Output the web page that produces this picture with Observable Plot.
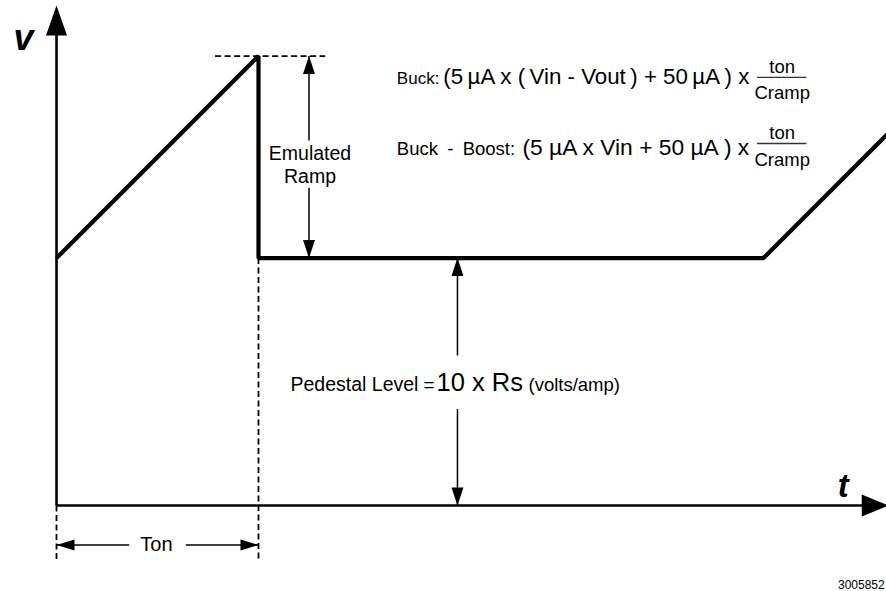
<!DOCTYPE html>
<html><head><meta charset="utf-8">
<script src="https://cdn.jsdelivr.net/npm/d3@7"></script>
<script src="https://cdn.jsdelivr.net/npm/@observablehq/plot@0.6"></script>
<style>html,body{margin:0;padding:0;background:#fff} svg{display:block}</style>
</head><body><div id="chart"></div>
<script>
// ---- data (time t and voltage v in arbitrary units) ----
const waveT = [0, 2, 2, 7, 8.25];
const waveV = [2.45, 4.45, 2.45, 2.45, 3.7];
const tOn = 2;            // on-time
const pedestal = 2.45;    // pedestal level
const peak = 4.45;        // top of emulated ramp
const tMax = 8.24;        // end of time axis
const vMax = 4.95;        // end of voltage axis
const tonArrowV = -0.39;  // level of the Ton dimension arrow
const dimLow = -0.545;    // bottom of the dashed extension lines
const rampArrowT = 2.5;   // position of the "Emulated Ramp" dimension
const pedArrowT = 3.97;   // position of the pedestal dimension

const formula1Small = "Buck:";
const formula1Big = "(5\u2009µA x (\u2009Vin - Vout\u2009) + 50\u2009µA\u2009) x";
const formula2Small = "Buck\u2002-\u2002Boost:";
const formula2Big = "(5 µA x Vin + 50 µA ) x";
const fracTop = "ton";
const fracBottom = "Cramp";
const pedLabel = ["Pedestal Level", "=", "10 x Rs", "(volts/amp)"];
const figId = "3005852";

// ---- tables built from the data ----
const wave = waveT.map((t, i) => ({t, v: waveV[i]}));
const FONT = "Liberation Sans, Arial, Helvetica, sans-serif";

const head = (dx, dy, L, W) => ({
  draw(ctx) {
    const px = -dy, py = dx;
    ctx.moveTo(0, 0);
    ctx.lineTo(-dx * L + px * W / 2, -dy * L + py * W / 2);
    ctx.lineTo(-dx * L - px * W / 2, -dy * L - py * W / 2);
    ctx.closePath();
  }
});

const axisLines = [
  {x1: 0, y1: 0, x2: tMax - 0.1, y2: 0},
  {x1: 0, y1: 0, x2: 0, y2: vMax - 0.1}
];
// dimension shafts with gaps for the labels
const rampGapC = 3.38, rampGapH = 0.235;
const tonGapC = tOn / 2, tonGapH = 0.28;
const pedGapC = 1.22, pedGapH = 0.265;
const shafts = [
  {x1: rampArrowT, y1: peak, x2: rampArrowT, y2: rampGapC + rampGapH},
  {x1: rampArrowT, y1: rampGapC - rampGapH, x2: rampArrowT, y2: pedestal},
  {x1: 0, y1: tonArrowV, x2: tonGapC - tonGapH, y2: tonArrowV},
  {x1: tonGapC + tonGapH, y1: tonArrowV, x2: tOn, y2: tonArrowV},
  {x1: pedArrowT, y1: pedestal, x2: pedArrowT, y2: pedGapC + pedGapH},
  {x1: pedArrowT, y1: pedGapC - pedGapH, x2: pedArrowT, y2: 0}
];
const dashed = [
  {x1: 1.57, y1: peak, x2: 2.66, y2: peak},
  {x1: tOn, y1: pedestal, x2: tOn, y2: dimLow},
  {x1: 0, y1: 0, x2: 0, y2: dimLow}
];
const fracBars = [
  {x1: 6.94, x2: 7.43, y: 4.238},
  {x1: 6.94, x2: 7.43, y: 3.584}
];

const txt = (data, opts) => Plot.text(data, {x: "x", y: "y", text: "s", fill: "black", ...opts});

const chart = Plot.plot({
  width: 886, height: 591,
  margin: 0,
  x: {domain: [-56 / 101, 830 / 101], axis: null},
  y: {domain: [-86 / 101, 505 / 101], axis: null},
  style: {fontFamily: FONT, background: "#fff", overflow: "hidden"},
  marks: [
    Plot.link(axisLines, {x1: "x1", y1: "y1", x2: "x2", y2: "y2", stroke: "black", strokeWidth: 2.6}),
    Plot.link(shafts, {x1: "x1", y1: "y1", x2: "x2", y2: "y2", stroke: "black", strokeWidth: 1.5}),
    Plot.link(dashed, {x1: "x1", y1: "y1", x2: "x2", y2: "y2", stroke: "black", strokeWidth: 1.8, strokeDasharray: "6,3.5"}),
    Plot.ruleY(fracBars, {x1: "x1", x2: "x2", y: "y", stroke: "#333", strokeWidth: 1.3}),
    Plot.line(wave, {x: "t", y: "v", stroke: "black", strokeWidth: 4.2, strokeLinejoin: "miter", strokeLinecap: "butt"}),
    // arrow heads
    Plot.dot([{x: 0, y: vMax}], {x: "x", y: "y", symbol: head(0, -1, 30, 21), fill: "black", stroke: "none"}),
    Plot.dot([{x: tMax, y: 0}], {x: "x", y: "y", symbol: head(1, 0, 27, 22), fill: "black", stroke: "none"}),
    Plot.dot([{x: rampArrowT, y: peak}, {x: pedArrowT, y: pedestal}], {x: "x", y: "y", symbol: head(0, -1, 18, 12), fill: "black", stroke: "none"}),
    Plot.dot([{x: rampArrowT, y: pedestal}, {x: pedArrowT, y: 0}], {x: "x", y: "y", symbol: head(0, 1, 18, 12), fill: "black", stroke: "none"}),
    Plot.dot([{x: 0, y: tonArrowV}], {x: "x", y: "y", symbol: head(-1, 0, 18, 11), fill: "black", stroke: "none"}),
    Plot.dot([{x: tOn, y: tonArrowV}], {x: "x", y: "y", symbol: head(1, 0, 18, 11), fill: "black", stroke: "none"}),
    // axis letters
    txt([{x: -0.327, y: 4.62, s: "v"}], {fontSize: 36, fontWeight: "bold", fontStyle: "italic"}),
    txt([{x: 7.79, y: 0.19, s: "t"}], {fontSize: 33, fontWeight: "bold", fontStyle: "italic"}),
    // dimension labels
    txt([{x: rampArrowT + 0.01, y: rampGapC, s: "Emulated\nRamp"}], {fontSize: 19.5, lineHeight: 1.2}),
    txt([{x: tonGapC - 0.01, y: tonArrowV, s: "Ton"}], {fontSize: 20}),
    txt([{x: 2.317, y: 1.129, s: pedLabel[0]}], {fontSize: 19.5, textAnchor: "start", lineAnchor: "bottom"}),
    txt([{x: 3.634, y: 1.129, s: pedLabel[1]}], {fontSize: 19, textAnchor: "start", lineAnchor: "bottom"}),
    txt([{x: 3.762, y: 1.129, s: pedLabel[2]}], {fontSize: 25.5, textAnchor: "start", lineAnchor: "bottom"}),
    txt([{x: 4.673, y: 1.129, s: pedLabel[3]}], {fontSize: 18.5, textAnchor: "start", lineAnchor: "bottom"}),
    // formulas
    txt([{x: 3.37, y: 4.178, s: formula1Small}], {fontSize: 17, textAnchor: "start", lineAnchor: "bottom"}),
    txt([{x: 3.37, y: 3.475, s: formula2Small}], {fontSize: 18.5, textAnchor: "start", lineAnchor: "bottom"}),
    txt([{x: 3.83, y: 4.178, s: formula1Big}], {fontSize: 22.3, textAnchor: "start", lineAnchor: "bottom"}),
    txt([{x: 4.614, y: 3.475, s: formula2Big}], {fontSize: 22.8, textAnchor: "start", lineAnchor: "bottom"}),
    txt([{x: 7.185, y: 4.287, s: fracTop}, {x: 7.185, y: 3.624, s: fracTop}], {fontSize: 18.5, lineAnchor: "bottom"}),
    txt([{x: 7.185, y: 4.02, s: fracBottom}, {x: 7.185, y: 3.366, s: fracBottom}], {fontSize: 18.5, lineAnchor: "bottom"}),
    // figure id
    txt([{x: 8.2, y: -0.79, s: figId}], {fontSize: 12, textAnchor: "end"})
  ]
});
document.getElementById("chart").appendChild(chart);
</script>
</body></html>
